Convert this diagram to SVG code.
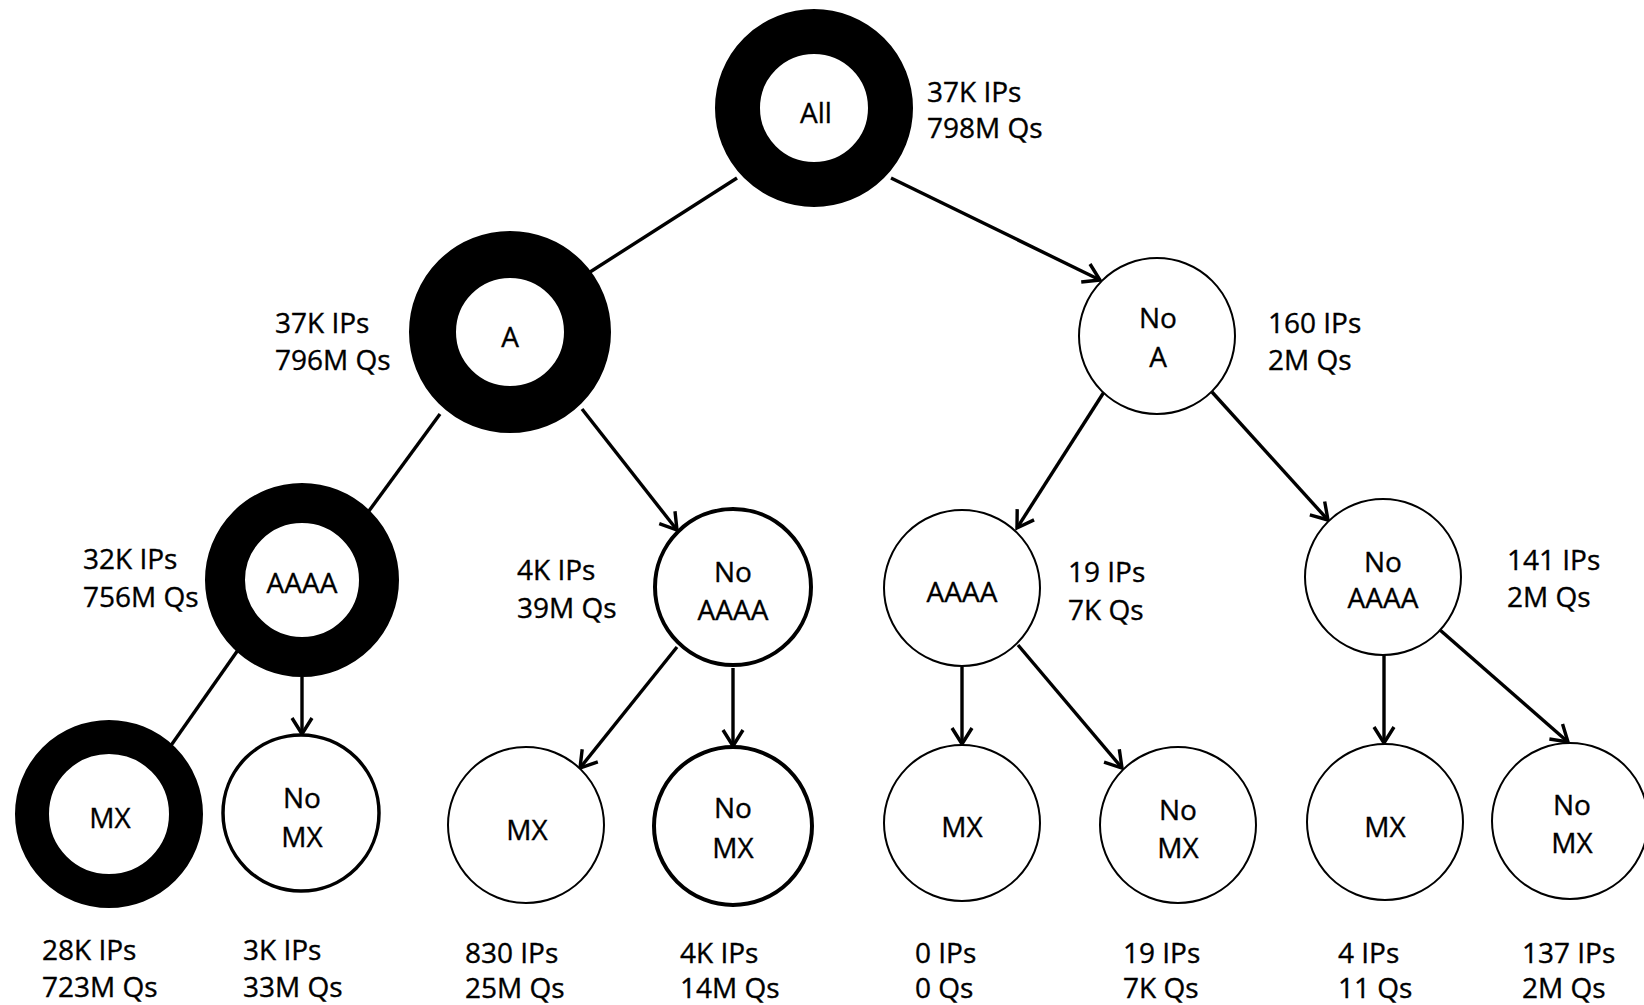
<svg xmlns="http://www.w3.org/2000/svg" width="1644" height="1005" viewBox="0 0 1644 1005">
<defs>
<marker id="arr" markerUnits="userSpaceOnUse" viewBox="-20 -12 22 24" markerWidth="22" markerHeight="24" refX="0" refY="0" orient="auto" overflow="visible">
<path d="M -16,-10 L 0,0 L -16,10" fill="none" stroke="#000" stroke-width="3.4" stroke-linejoin="miter"/>
</marker>
</defs>
<style>
text{font-family:"Open Sans","Liberation Sans",sans-serif;font-size:28px;fill:#000;stroke:#000;stroke-width:0.35}
.c{text-anchor:middle}
.n{fill:#fff;stroke:#000}
.thin{stroke-width:2}
.med{stroke-width:4}
.e{stroke:#000;stroke-width:3.4;fill:none;marker-end:url(#arr)}
</style>
<rect width="1644" height="1005" fill="#fff"/>
<g id="connectors">
<line class="e" x1="737" y1="178" x2="565" y2="288"/>
<line class="e" x1="891" y1="178" x2="1100" y2="280"/>
<line class="e" x1="440" y1="414" x2="355" y2="530"/>
<line class="e" x1="582" y1="409" x2="677" y2="530"/>
<line class="e" x1="1104" y1="392" x2="1017" y2="528"/>
<line class="e" x1="1212" y1="392" x2="1328" y2="520"/>
<line class="e" x1="238" y1="650" x2="158" y2="764"/>
<line class="e" x1="302" y1="677" x2="302" y2="734"/>
<line class="e" x1="677" y1="647" x2="580" y2="768"/>
<line class="e" x1="733" y1="668" x2="733" y2="746"/>
<line class="e" x1="962" y1="667" x2="962" y2="744"/>
<line class="e" x1="1018" y1="645" x2="1122" y2="768"/>
<line class="e" x1="1384" y1="655" x2="1384" y2="743"/>
<line class="e" x1="1440" y1="630" x2="1568" y2="742"/>
</g>
<g id="node-all">
<circle class="n" cx="814" cy="108" r="76.5" stroke-width="45"/>
<text class="c" x="816" y="123">All</text>
<text x="927" y="102">37K IPs</text><text x="927" y="138">798M Qs</text>
</g>
<g id="node-a">
<circle class="n" cx="510" cy="332" r="77.5" stroke-width="47"/>
<text class="c" x="510" y="347">A</text>
<text x="275" y="333">37K IPs</text><text x="275" y="370">796M Qs</text>
</g>
<g id="node-noa">
<circle class="n thin" cx="1157" cy="336" r="78"/>
<text class="c" x="1158" y="328">No</text><text class="c" x="1158" y="367">A</text>
<text x="1268" y="333">160 IPs</text><text x="1268" y="370">2M Qs</text>
</g>
<g id="node-aaaa-l">
<circle class="n" cx="302" cy="580" r="77" stroke-width="40"/>
<text class="c" x="302" y="593">AAAA</text>
<text x="83" y="569">32K IPs</text><text x="83" y="607">756M Qs</text>
</g>
<g id="node-noaaaa-l">
<circle class="n med" cx="733" cy="587" r="78"/>
<text class="c" x="733" y="582">No</text><text class="c" x="733" y="620">AAAA</text>
<text x="517" y="580">4K IPs</text><text x="517" y="618">39M Qs</text>
</g>
<g id="node-aaaa-r">
<circle class="n thin" cx="962" cy="588" r="78"/>
<text class="c" x="962" y="602">AAAA</text>
<text x="1068" y="582">19 IPs</text><text x="1068" y="620">7K Qs</text>
</g>
<g id="node-noaaaa-r">
<circle class="n thin" cx="1383" cy="577" r="78"/>
<text class="c" x="1383" y="572">No</text><text class="c" x="1383" y="608">AAAA</text>
<text x="1507" y="570">141 IPs</text><text x="1507" y="607">2M Qs</text>
</g>
<g id="node-mx-1">
<circle class="n" cx="109" cy="814" r="77" stroke-width="34"/>
<text class="c" x="110" y="828">MX</text>
<text x="42" y="960">28K IPs</text><text x="42" y="997">723M Qs</text>
</g>
<g id="node-nomx-1">
<circle class="n" cx="301" cy="813" r="78" stroke-width="3.5"/>
<text class="c" x="302" y="808">No</text><text class="c" x="302" y="847">MX</text>
<text x="243" y="960">3K IPs</text><text x="243" y="997">33M Qs</text>
</g>
<g id="node-mx-2">
<circle class="n thin" cx="526" cy="825" r="78"/>
<text class="c" x="527" y="840">MX</text>
<text x="465" y="963">830 IPs</text><text x="465" y="998">25M Qs</text>
</g>
<g id="node-nomx-2">
<circle class="n med" cx="733" cy="826" r="79"/>
<text class="c" x="733" y="818">No</text><text class="c" x="733" y="858">MX</text>
<text x="680" y="963">4K IPs</text><text x="680" y="998">14M Qs</text>
</g>
<g id="node-mx-3">
<circle class="n thin" cx="962" cy="823" r="78"/>
<text class="c" x="962" y="837">MX</text>
<text x="915" y="963">0 IPs</text><text x="915" y="998">0 Qs</text>
</g>
<g id="node-nomx-3">
<circle class="n thin" cx="1178" cy="825" r="78"/>
<text class="c" x="1178" y="820">No</text><text class="c" x="1178" y="858">MX</text>
<text x="1123" y="963">19 IPs</text><text x="1123" y="998">7K Qs</text>
</g>
<g id="node-mx-4">
<circle class="n thin" cx="1385" cy="822" r="78"/>
<text class="c" x="1385" y="837">MX</text>
<text x="1338" y="963">4 IPs</text><text x="1338" y="998">11 Qs</text>
</g>
<g id="node-nomx-4">
<circle class="n thin" cx="1570" cy="821" r="78"/>
<text class="c" x="1572" y="815">No</text><text class="c" x="1572" y="853">MX</text>
<text x="1522" y="963">137 IPs</text><text x="1522" y="998">2M Qs</text>
</g>
</svg>
